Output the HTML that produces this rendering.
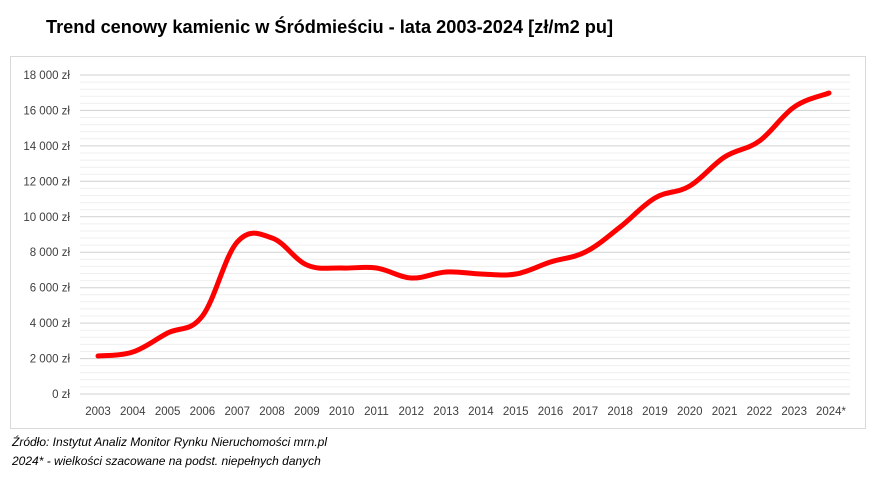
<!DOCTYPE html>
<html><head><meta charset="utf-8"><style>
body{margin:0;background:#fff;width:886px;height:483px;overflow:hidden;font-family:"Liberation Sans",sans-serif}
</style></head><body>
<svg width="886" height="483" xmlns="http://www.w3.org/2000/svg" font-family="Liberation Sans, sans-serif">
<text x="46" y="33" font-size="18.2" font-weight="bold" fill="#000">Trend cenowy kamienic w Śródmieściu - lata 2003-2024 [zł/m2 pu]</text>
<rect x="10.5" y="56.5" width="855" height="372" fill="none" stroke="#d9d9d9"/>
<g id="grid"></g>
<g font-size="11.5" fill="#404040" text-anchor="end" id="ylab"></g>
<g font-size="11.5" fill="#404040" text-anchor="middle" id="xlab"></g>
<path id="line" fill="none" stroke="#ff0000" stroke-width="5" stroke-linecap="round" stroke-linejoin="round"/>
<text x="12" y="446" font-size="12" font-style="italic" fill="#000">Źródło: Instytut Analiz Monitor Rynku Nieruchomości mrn.pl</text>
<text x="12" y="465" font-size="12" font-style="italic" fill="#000">2024* - wielkości szacowane na podst. niepełnych danych</text>
</svg>
<script>
var ns="http://www.w3.org/2000/svg";
function el(t,a,p,txt){var e=document.createElementNS(ns,t);for(var k in a)e.setAttribute(k,a[k]);if(txt)e.textContent=txt;document.getElementById(p).appendChild(e);}
var y0=394,y18=75,x0=80,x1=850;
for(var i=0;i<=45;i++){var y=y0-(y0-y18)*i/45;var major=i%5==0;
el("line",{x1:x0,x2:x1,y1:y.toFixed(1),y2:y.toFixed(1),stroke:major?"#d0d0d0":"#efefef","stroke-width":1},"grid");
if(major){var v=i/5*2000;var s=v==0?"0 zł":(Math.floor(v/1000)+" 000 zł");el("text",{x:70,y:y+4},"ylab",s);}}
var ys=[356,352,333,316,242,238,265,268,268,278,272,274,274,262,252,227,198,186,157,141,107,93];
var pts=[];for(var i=0;i<22;i++){var x=98+i*(829-98)/21;pts.push([x,ys[i]]);
el("text",{x:x+(i==21?2:0),y:415},"xlab",(2003+i)+(i==21?"*":""));}
var d="M"+pts[0][0]+","+pts[0][1];
for(var i=0;i<21;i++){var p0=pts[Math.max(0,i-1)],p1=pts[i],p2=pts[i+1],p3=pts[Math.min(21,i+2)];var t=0.18;
d+=" C"+(p1[0]+(p2[0]-p0[0])*t)+","+(p1[1]+(p2[1]-p0[1])*t)+" "+(p2[0]-(p3[0]-p1[0])*t)+","+(p2[1]-(p3[1]-p1[1])*t)+" "+p2[0]+","+p2[1];}
document.getElementById("line").setAttribute("d",d);
</script>
</body></html>
